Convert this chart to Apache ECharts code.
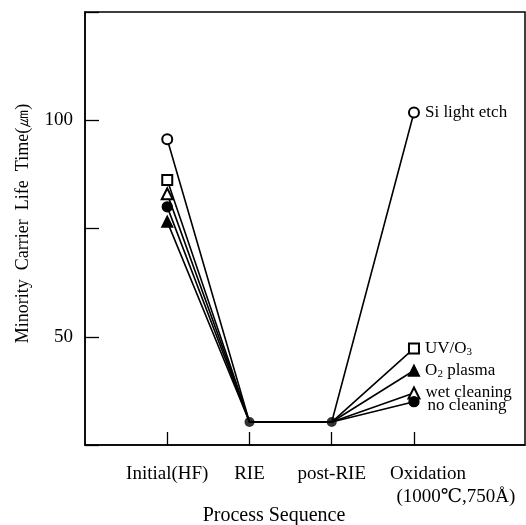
<!DOCTYPE html>
<html>
<head>
<meta charset="utf-8">
<script src="https://cdn.jsdelivr.net/npm/echarts@6/dist/echarts.min.js"></script>
<style>
  html, body { margin: 0; padding: 0; background: #fff; }
  #main { width: 526px; height: 525px; }
</style>
</head>
<body>
<div id="main"></div>
<script>
// process steps on the x axis
var steps = [1, 2, 3, 4];
var stepLabels = ['Initial(HF)', 'RIE', 'post-RIE', 'Oxidation'];
var ovenNote = '(1000℃,750Å)';

// minority carrier life time (um) at each step
var siLightEtch = [95.6, 30.3, 30.3, 101.8];
var uvO3        = [86.2, 30.3, 30.3, 47.3];
var wetClean    = [83.0, 30.3, 30.3, 37.0];
var noClean     = [80.0, 30.3, 30.3, 35.0];
var o2Plasma    = [76.6, 30.3, 30.3, 42.2];
var rieLevel    = [30.3, 30.3];

var yTickLabels = [50, 100];

var serif = '"Liberation Serif", "DejaVu Serif", serif';

var myChart = echarts.init(document.getElementById('main'));

// one line per cleaning method, marker only on first and last step
function mkSeries(name, vals, sym, size, lblOffset) {
	var d = [];
	for (var i = 0; i < steps.length; i++) {
		d.push({
			value: [steps[i], vals[i]],
			symbol: (i === 0 || i === steps.length - 1) ? sym : 'none',
			label: { show: i === steps.length - 1 }
		});
	}
	return {
		name: name,
		type: 'line',
		data: d,
		symbolSize: size,
		showSymbol: true,
		lineStyle: { color: '#000', width: 1.6 },
		itemStyle: { color: '#000', borderColor: '#000', borderWidth: 1.3 },
		label: {
			position: 'right',
			distance: 5,
			offset: lblOffset || [0, 0],
			color: '#000',
			fontFamily: serif,
			fontSize: 17,
			formatter: function () { return name; },
			rich: {
				sub: { fontFamily: serif, fontSize: 11, color: '#000', padding: [8, 0, 0, 0] },
				t: { fontFamily: serif, fontSize: 17, color: '#000' }
			}
		},
		z: 3
	};
}

var s1 = mkSeries('Si light etch', siLightEtch, 'emptyCircle', 10);
var s2 = mkSeries('UV/O3', uvO3, 'emptyRect', 10);
s2.label.formatter = '{t|UV/O}{sub|3}';
var s3 = mkSeries('wet cleaning', wetClean, 'emptyTriangle', 11, [0, -1]);
var s4 = mkSeries('no cleaning', noClean, 'circle', 10, [3, 4]);
var s5 = mkSeries('O2 plasma', o2Plasma, 'triangle', 11);
s5.label.formatter = '{t|O}{sub|2}{t| plasma}';

var lastStep = steps[steps.length - 1];

option = {
	backgroundColor: '#fff',
	animation: false,
	grid: {
		left: 85, right: 1, top: 12, bottom: 80,
		outerBoundsMode: 'none',
		containLabel: false,
		show: true, borderColor: '#000', borderWidth: 1.5
	},
	xAxis: [{
		type: 'value',
		min: 0, max: 5.35, interval: 1,
		splitLine: { show: false },
		axisLine: { lineStyle: { color: '#000', width: 1.5 } },
		axisTick: { inside: true, length: 13, customValues: steps, lineStyle: { color: '#000', width: 1.3 } },
		axisLabel: {
			customValues: steps.slice(0, steps.length - 1),
			margin: 20,
			color: '#000',
			fontFamily: serif,
			fontSize: 19,
			formatter: function (v) {
				var i = steps.indexOf(v);
				return i < 0 ? '' : stepLabels[i];
			}
		},
		name: 'Process Sequence',
		nameLocation: 'middle',
		nameGap: 61,
		nameTextStyle: { color: '#000', fontFamily: serif, fontSize: 20, padding: [0, 62, 0, 0] }
	}, {
		// second label row for the oxidation step (two lines, set off to the right)
		type: 'value',
		position: 'bottom',
		min: 0, max: 5.35, interval: 1,
		splitLine: { show: false },
		axisLine: { show: false },
		axisTick: { show: false },
		axisLabel: {
			customValues: [lastStep],
			margin: 18,
			color: '#000',
			fontFamily: serif,
			fontSize: 19,
			lineHeight: 23,
			formatter: function () {
				return '{o1|' + stepLabels[steps.length - 1] + '}\n{o2|' + ovenNote + '}';
			},
			rich: {
				o1: { fontFamily: serif, fontSize: 19, color: '#000', lineHeight: 23, padding: [0, 0, 0, 28] },
				o2: { fontFamily: serif, fontSize: 19, color: '#000', lineHeight: 23, padding: [0, 0, 0, 84] }
			}
		}
	}],
	yAxis: {
		type: 'value',
		min: 25, max: 125, interval: 25,
		splitLine: { show: false },
		axisLine: { show: true, lineStyle: { color: '#000', width: 1.5 } },
		axisTick: { inside: true, length: 14, lineStyle: { color: '#000', width: 1.3 } },
		axisLabel: {
			margin: 12,
			color: '#000',
			fontFamily: serif,
			fontSize: 19,
			formatter: function (v) { return yTickLabels.indexOf(v) >= 0 ? v : ''; }
		},
		name: 'Minority  Carrier  Life  Time(㎛)',
		nameLocation: 'middle',
		nameGap: 53,
		nameTextStyle: { color: '#000', fontFamily: serif, fontSize: 18, padding: [0, 0, 0, 10] }
	},
	series: [s1, s2, s3, s4, s5, {
		name: 'RIE',
		type: 'scatter',
		symbol: 'circle',
		symbolSize: 10,
		itemStyle: { color: '#000' },
		data: [[steps[1], rieLevel[0]], [steps[2], rieLevel[1]]],
		z: 4
	}]
};
myChart.setOption(option);
</script>
</body>
</html>
